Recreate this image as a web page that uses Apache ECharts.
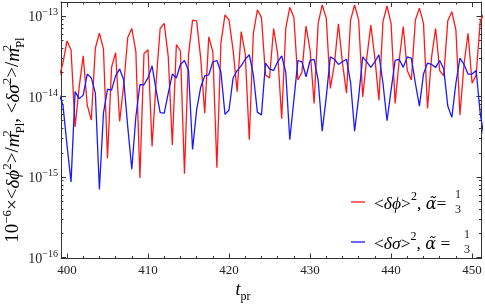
<!DOCTYPE html>
<html><head><meta charset="utf-8">
<script src="https://cdn.jsdelivr.net/npm/echarts@6/dist/echarts.min.js"></script>
<style>html,body{margin:0;padding:0;background:#fff}#c{width:485px;height:307px}</style>
</head><body><div id="c"></div>
<script>
const T = [399,399.5,400,400.5,401,401.5,402,402.5,403,403.5,404,404.5,405,405.5,406,406.5,407,407.5,408,408.5,409,409.5,
410,410.5,411,411.5,412,412.5,413,413.5,414,414.5,415,415.5,416,416.5,417,417.5,418,418.5,419,419.5,
420,420.5,421,421.5,422,422.5,423,423.5,424,424.5,425,425.5,426,426.5,427,427.5,428,428.5,429,429.5,
430,430.5,431,431.5,432,432.5,433,433.5,434,434.5,435,435.5,436,436.5,437,437.5,438,438.5,439,439.5,
440,440.5,441,441.5,442,442.5,443,443.5,444,444.5,445,445.5,446,446.5,447,447.5,448,448.5,449,449.5,
450,450.5,451,451.5];
const phi = [1.7e-14,2.6e-14,4.9e-14,3.8e-14,4.2e-15,1.3e-14,3.2e-14,7.8e-15,5.1e-15,4.0e-14,6.1e-14,3.9e-14,1.7e-15,2.3e-14,3.5e-14,4.9e-15,1.4e-14,5.4e-14,7.0e-14,3.6e-14,9.7e-16,3.4e-14,
3.8e-14,2.4e-15,1.5e-14,7.0e-14,8.1e-14,3.1e-14,2.5e-15,4.4e-14,3.7e-14,1.1e-15,3.3e-14,8.9e-14,8.7e-14,3.0e-14,6.2e-15,5.5e-14,3.6e-14,1.3e-15,4.6e-14,1.03e-13,
8.9e-14,3.8e-14,1.15e-14,6.4e-14,3.4e-14,2.9e-15,6.1e-14,1.19e-13,9.6e-14,1.85e-14,1.7e-14,7.0e-14,3.4e-14,5.3e-15,7.0e-14,1.28e-13,9.6e-14,1.6e-14,2.0e-14,7.5e-14,
3.8e-14,8.2e-15,8.1e-14,1.37e-13,9.4e-14,1.26e-14,2.5e-14,8.0e-14,2.6e-14,1.1e-14,8.9e-14,1.37e-13,8.9e-14,9.9e-15,3.0e-14,7.7e-14,3.0e-14,9.0e-15,8.5e-14,1.33e-13,
8.1e-14,8.2e-15,2.8e-14,7.4e-14,2.1e-14,1.6e-14,8.9e-14,1.25e-13,8.1e-14,7.1e-15,3.1e-14,7.0e-14,2.1e-14,1.8e-14,8.7e-14,1.13e-13,6.7e-14,5.9e-15,2.5e-14,6.1e-14,
1.46e-14,1.85e-14,8.5e-14,1.1e-13];
const sigma = [1.1e-14,7.8e-15,2.5e-15,8.7e-16,1.15e-14,9.4e-15,1.04e-14,1.9e-14,1.7e-14,1.1e-14,7.0e-16,6.2e-15,1.23e-14,1.2e-14,1.8e-14,2.2e-14,1.6e-14,4.2e-15,1.25e-15,5.6e-15,1.4e-14,1.4e-14,
1.7e-14,2.4e-14,1.2e-14,6.3e-15,6.2e-15,1.1e-14,1.9e-14,1.7e-14,2.5e-14,2.8e-14,2.1e-14,2.2e-15,6.8e-15,1.3e-14,1.8e-14,1.85e-14,2.7e-14,2.8e-14,2.0e-14,6.0e-15,
6.8e-15,1.7e-14,2.1e-14,2.4e-14,2.9e-14,3.3e-14,1.85e-14,6.4e-15,5.9e-15,2.6e-14,2.2e-14,2.1e-14,2.7e-14,3.2e-14,2.0e-14,2.9e-15,9.0e-15,2.8e-14,2.7e-14,1.76e-14,
2.8e-14,2.9e-14,1.6e-14,3.7e-15,9.9e-15,3.1e-14,2.9e-14,2.5e-14,2.7e-14,2.9e-14,1.5e-14,3.7e-15,9.9e-15,3.1e-14,2.7e-14,2.3e-14,2.7e-14,3.3e-14,1.46e-14,5.0e-15,
1.2e-14,2.8e-14,2.9e-14,2.3e-14,3.1e-14,3.0e-14,1.46e-14,7.6e-15,1.9e-14,2.6e-14,2.5e-14,2.3e-14,2.8e-14,2.2e-14,7.6e-15,5.5e-15,1.46e-14,3.0e-14,2.5e-14,1.9e-14,
1.9e-14,2.1e-14,6.2e-15,3.0e-15];
const xTicks = [400,410,420,430,440,450];
const xMinor = [402,404,406,408,412,414,416,418,422,424,426,428,432,434,436,438,442,444,446,448];
const yTicks = [1e-16,1e-15,1e-14,1e-13];
const yMinor = [2e-16,3e-16,4e-16,5e-16,6e-16,7e-16,8e-16,9e-16,2e-15,3e-15,4e-15,5e-15,6e-15,7e-15,8e-15,9e-15,
2e-14,3e-14,4e-14,5e-14,6e-14,7e-14,8e-14,9e-14];

const XMIN = 399.26, XMAX = 451.16, YMIN = 9.72e-17, YMAX = 1.492e-13;
const FRAME = '#333';
const SERIF = '"Liberation Serif","DejaVu Serif",serif';
const DSERIF = '"DejaVu Serif","Liberation Serif",serif';

function xAx(pos, ticks, len, labels, line) {
  return {type:'value', position:pos, min:XMIN, max:XMAX, scale:true,
    splitLine:{show:false},
    axisLine:{show:line, onZero:false, lineStyle:{color:FRAME, width:1}},
    axisTick:{show:true, inside:true, length:len, customValues:ticks, lineStyle:{color:FRAME, width:1}},
    axisLabel:labels ? {show:true, customValues:ticks, margin:6, fontFamily:SERIF, fontSize:13, color:'#222'} : {show:false}
  };
}
function yAx(pos, ticks, len, labels, line) {
  return {type:'log', logBase:10, position:pos, min:YMIN, max:YMAX,
    splitLine:{show:false},
    axisLine:{show:line, onZero:false, lineStyle:{color:FRAME, width:1}},
    axisTick:{show:true, inside:true, length:len, customValues:ticks, lineStyle:{color:FRAME, width:1}},
    axisLabel:labels ? {show:true, customValues:ticks, margin:3,
      formatter:function(v){ const e = Math.round(Math.log10(v)); return '{b|10}{s|\u2212' + Math.abs(e) + '}'; },
      rich:{b:{fontFamily:SERIF, fontSize:14, color:'#222', verticalAlign:'bottom'},
            s:{fontFamily:SERIF, fontSize:10, color:'#222', verticalAlign:'bottom', padding:[0,0,7,0]}}
    } : {show:false}
  };
}

const chart = echarts.init(document.getElementById('c'), null, {renderer:'canvas'});
const redPts = T.map((t,i)=>[t, phi[i]]);
const bluePts = T.map((t,i)=>[t, sigma[i]]);

const legRich = {
  n:{fontFamily:SERIF, fontSize:17.5, color:'#222', verticalAlign:'bottom', padding:[0,0,2,0]},
  i:{fontFamily:SERIF, fontSize:17.5, fontStyle:'italic', color:'#222', verticalAlign:'bottom', padding:[0,0,2,0]},
  a:{fontFamily:DSERIF, fontSize:16, fontStyle:'italic', color:'#222', verticalAlign:'bottom', padding:[0,0,2,0]},
  p:{fontFamily:SERIF, fontSize:12, color:'#222', verticalAlign:'bottom', padding:[0,0,12,0]}
};

chart.setOption({
  animation:false,
  backgroundColor:'#fff',
  grid:{left:61, right:3.5, top:2, bottom:48.5, containLabel:false},
  xAxis:[xAx('bottom', xTicks, 5, true, true), xAx('bottom', xMinor, 2.5, false, false),
         xAx('top', xTicks, 5, false, true), xAx('top', xMinor, 2.5, false, false)],
  yAxis:[yAx('left', yTicks, 5, true, true), yAx('left', yMinor, 2.5, false, false),
         yAx('right', yTicks, 5, false, true), yAx('right', yMinor, 2.5, false, false)],
  series:[
    {type:'line', data:redPts, xAxisIndex:0, yAxisIndex:0, showSymbol:false, clip:true,
     lineStyle:{color:'#ff1a1a', width:1.3}, itemStyle:{color:'#ff1a1a'}},
    {type:'line', data:bluePts, xAxisIndex:0, yAxisIndex:0, showSymbol:false, clip:true,
     lineStyle:{color:'#1a1aff', width:1.3}, itemStyle:{color:'#1a1aff'}}
  ],
  graphic:[
    {type:'text', x:14, y:140, rotation:Math.PI/2,
     style:{text:'{n|10}{p|\u22126}{n|\u00d7<}{i|\u03b4\u03d5}{p|2}{n|>/}{i|m}{pw|2}{b|Pl}{n|, <}{i|\u03b4\u03c3}{p|2}{n|>/}{i|m}{pw|2}{b|Pl}',
       align:'center', verticalAlign:'middle',
       rich:{
         n:{fontFamily:SERIF, fontSize:19, color:'#222', verticalAlign:'bottom', padding:[0,0,4,0]},
         i:{fontFamily:SERIF, fontSize:19, fontStyle:'italic', color:'#222', verticalAlign:'bottom', padding:[0,0,4,0]},
         p:{fontFamily:SERIF, fontSize:13, color:'#222', verticalAlign:'bottom', padding:[0,0,13,0]},
         pw:{fontFamily:SERIF, fontSize:13, color:'#222', verticalAlign:'bottom', padding:[0,0,13,0], width:0},
         b:{fontFamily:SERIF, fontSize:13, color:'#222', verticalAlign:'bottom', padding:[0,0,0,0]}
       }}},
    {type:'text', x:243, y:292,
     style:{text:'{i|t}{b|pr}', align:'center', verticalAlign:'middle',
       rich:{i:{fontFamily:SERIF, fontSize:18, fontStyle:'italic', color:'#222', verticalAlign:'bottom', padding:[0,0,3,0]},
             b:{fontFamily:SERIF, fontSize:12, color:'#222', verticalAlign:'bottom'}}}},
    // legend red
    {type:'line', shape:{x1:351, y1:202, x2:365, y2:202}, style:{stroke:'#ff1a1a', lineWidth:1.3}},
    {type:'text', x:374, y:203,
     style:{text:'{n|<}{i|\u03b4\u03d5}{n|>}{p|2}{n|, }{a|\u03b1\u0303}{n|=}', align:'left', verticalAlign:'middle', rich:legRich}},
    {type:'text', x:458, y:195, style:{text:'1', align:'center', verticalAlign:'middle', fontFamily:SERIF, fontSize:12, fill:'#222'}},
    {type:'text', x:458, y:210, style:{text:'3', align:'center', verticalAlign:'middle', fontFamily:SERIF, fontSize:12, fill:'#222'}},
    // legend blue
    {type:'line', shape:{x1:351, y1:242, x2:365, y2:242}, style:{stroke:'#1a1aff', lineWidth:1.3}},
    {type:'text', x:374, y:243,
     style:{text:'{n|<}{i|\u03b4\u03c3}{n|>}{p|2}{n|, }{a|\u03b1\u0303}{n| = }', align:'left', verticalAlign:'middle', rich:legRich}},
    {type:'text', x:467, y:235, style:{text:'1', align:'center', verticalAlign:'middle', fontFamily:SERIF, fontSize:12, fill:'#222'}},
    {type:'text', x:467, y:250, style:{text:'3', align:'center', verticalAlign:'middle', fontFamily:SERIF, fontSize:12, fill:'#222'}}
  ]
});
</script></body></html>
